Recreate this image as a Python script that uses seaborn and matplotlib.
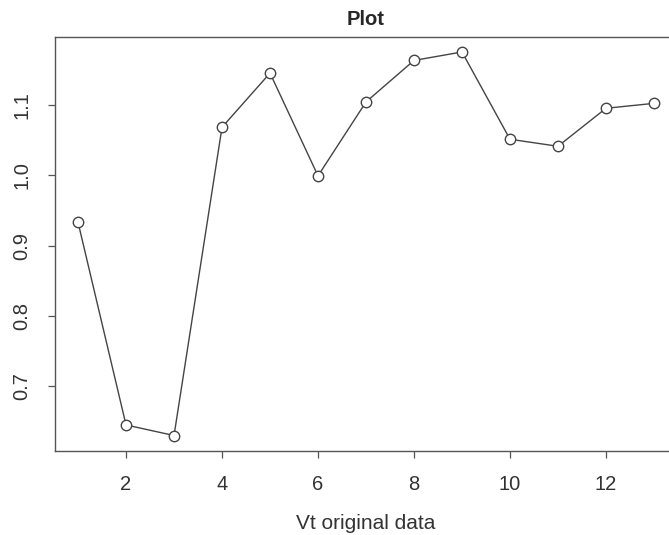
import pandas as pd
import seaborn as sns
import matplotlib.pyplot as plt

# значения
idx = [1, 2, 3, 4, 5, 6, 7, 8, 9, 10, 11, 12, 13]
vals = [0.933, 0.645, 0.630, 1.068, 1.145, 0.999, 1.104, 1.163, 1.175, 1.051, 1.041, 1.095, 1.102]
xticks = [2, 4, 6, 8, 10, 12]
yticks = [0.7, 0.8, 0.9, 1.0, 1.1]

df = pd.DataFrame({'x': idx, 'y': vals})

sns.set_style('ticks')
plt.rcParams['font.family'] = ['Liberation Sans', 'DejaVu Sans']

fig = plt.figure(figsize=(6.69, 5.35), dpi=100)
ax = fig.add_axes([55 / 669, 84 / 535, 622 / 669, 414.5 / 535])

sns.lineplot(data=df, x='x', y='y', ax=ax, color='#444444', linewidth=1,
             marker='o', markersize=7.5, markerfacecolor='white',
             markeredgecolor='#444444', markeredgewidth=1)

ax.set_xlim(0.52, 13.48)
ax.set_ylim(0.608, 1.197)
ax.set_xticks(xticks)
ax.set_yticks(yticks)
ax.set_xticklabels([str(t) for t in xticks], fontsize=14.5, color='#333333')
ax.set_yticklabels(['0.7', '0.8', '0.9', '1.0', '1.1'], fontsize=14.5, rotation=90,
                   va='center', color='#333333')
ax.tick_params(axis='both', length=5, width=0.9, color='#555555')
ax.tick_params(axis='x', pad=12)
ax.tick_params(axis='y', pad=12)

for s in ax.spines.values():
    s.set_visible(True)
    s.set_color('#555555')
    s.set_linewidth(1)

ax.set_title('Plot', fontsize=14.5, fontweight='bold', pad=8)
ax.set_xlabel('Vt original data', fontsize=15, color='#333333', labelpad=15)
ax.set_ylabel('')

plt.savefig('out.png', dpi=100)
